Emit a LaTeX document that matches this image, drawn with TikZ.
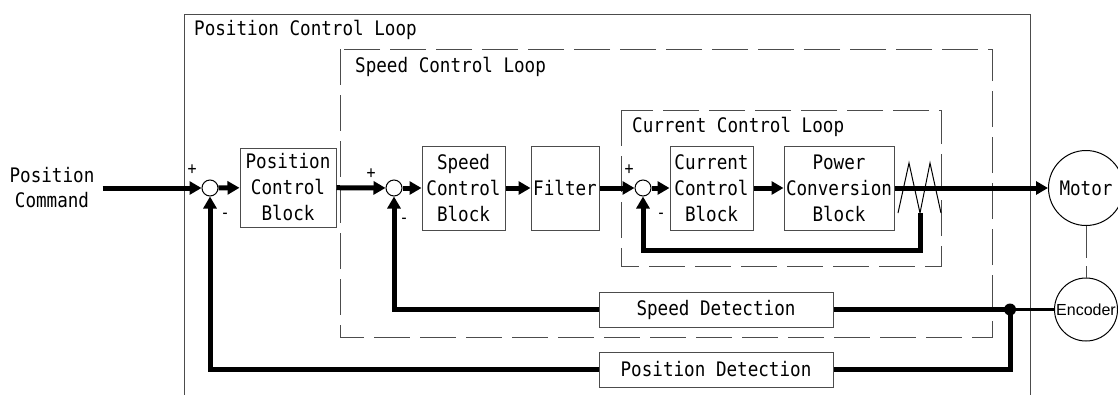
\documentclass[tikz,border=0pt]{standalone}
\usepackage{fontspec}
\usepackage{tikz}
\usetikzlibrary{arrows.meta,positioning,calc}
\newfontfamily\monof[FakeStretch=0.88]{DejaVu Sans Mono}
\newfontfamily\encf{Liberation Sans}
\colorlet{edgec}{black!70}
\tikzset{
  sig/.style={-{Triangle[length=12pt,width=13pt]},line width=5pt},
  fbk/.style={line width=5pt},
  blk/.style={draw=edgec,line width=1pt,align=center,inner sep=0pt,font=\monof\fontsize{20}{26}\selectfont},
  sumnd/.style={circle,draw=black,line width=1pt,fill=white,minimum size=16pt,inner sep=0pt},
  sgn/.style={font=\monof\fontsize{17}{17}\selectfont,inner sep=0pt},
  loopbox/.style={draw=edgec,line width=1pt,dash pattern=on 36pt off 10pt},
  ttl/.style={anchor=base west,inner sep=0pt,font=\monof\fontsize{20}{22}\selectfont}
}
\begin{document}
\begin{tikzpicture}[x=1pt,y=-1pt]
\useasboundingbox (0,0) rectangle (1118,394);
% loop frames
\draw[edgec,line width=1pt] (184,400) -- (184,14) -- (1030,14) -- (1030,400);
\draw[loopbox] (340,49) rectangle (992,337);
\draw[loopbox] (621,110) rectangle (941,266);
\node[ttl] (tpos) at (194,35) {Position Control Loop};
\node[ttl] (tspd) at (355,72) {Speed Control Loop};
\node[ttl] (tcur) at (632,132) {Current Control Loop};
% blocks
\node[align=center,inner sep=8pt,font=\monof\fontsize{20}{25}\selectfont] (poscmd) at (52,188) {Position\\Command};
\node[sumnd] (sum1) at (210,188) {};
\node[blk,minimum width=96pt,minimum height=79pt] (posblk) at (288,187.5) {Position\\Control\\Block};
\node[sumnd] (sum2) at (394,188) {};
\node[blk,minimum width=83pt,minimum height=84pt] (spdblk) at (463.5,188) {Speed\\Control\\Block};
\node[blk,minimum width=68pt,minimum height=84pt] (filt) at (565,188) {Filter};
\node[sumnd] (sum3) at (643,188) {};
\node[blk,minimum width=83pt,minimum height=84pt] (curblk) at (711.5,188) {Current\\Control\\Block};
\node[blk,minimum width=110pt,minimum height=84pt] (pwrblk) at (839,188) {Power\\Conversion\\Block};
\node[circle,draw=black,line width=1pt,minimum size=75pt,inner sep=0pt,font=\monof\fontsize{20}{22}\selectfont] (motor) at (1086,188) {Motor};
\node[circle,draw=black,line width=1pt,minimum size=63pt,inner sep=0pt,font=\encf\fontsize{16}{18}\selectfont] (enc) at (1086,309.5) {Encoder};
\node[blk,minimum width=234pt,minimum height=35pt] (spddet) at (716,309.5) {Speed Detection};
\node[blk,minimum width=234pt,minimum height=35pt] (posdet) at (716,369.5) {Position Detection};
% signs
\node[sgn] (p1) at (192,170) {+};
\node[sgn] (m1) at (225,216) {-};
\node[sgn] (p2) at (371,174) {+};
\node[sgn] (m2) at (404,221) {-};
\node[sgn] (p3) at (629,170) {+};
\node[sgn] (m3) at (661,216) {-};
% forward path
\draw[sig] (poscmd) -- (sum1);
\draw[sig] (sum1) -- (posblk);
\draw[sig] (posblk) -- (sum2);
\draw[sig] (sum2) -- (spdblk);
\draw[sig] (spdblk) -- (filt);
\draw[sig] (filt) -- (sum3);
\draw[sig] (sum3) -- (curblk);
\draw[sig] (curblk) -- (pwrblk);
\draw[sig] (pwrblk) -- (motor);
% current sensor
\draw[line width=1pt] (898,213) -- (909,163) -- (920,213) -- (930,163) -- (941,213);
\coordinate (tap) at (920,213);
\draw[sig] (tap) -- ++(0,37) -| (sum3.south);
% encoder feedback
\draw[edgec,line width=1pt,dash pattern=on 32pt off 8pt] (motor) -- (enc);
\coordinate (jn) at (1010,309.5);
\draw[line width=3pt] (enc) -- (jn);
\draw[fbk] (jn) -- (spddet);
\draw[fbk] (jn) |- (posdet);
\fill (jn) circle (6pt);
\draw[sig] (spddet) -| (sum2.south);
\draw[sig] (posdet) -| (sum1.south);
\end{tikzpicture}
\end{document}
